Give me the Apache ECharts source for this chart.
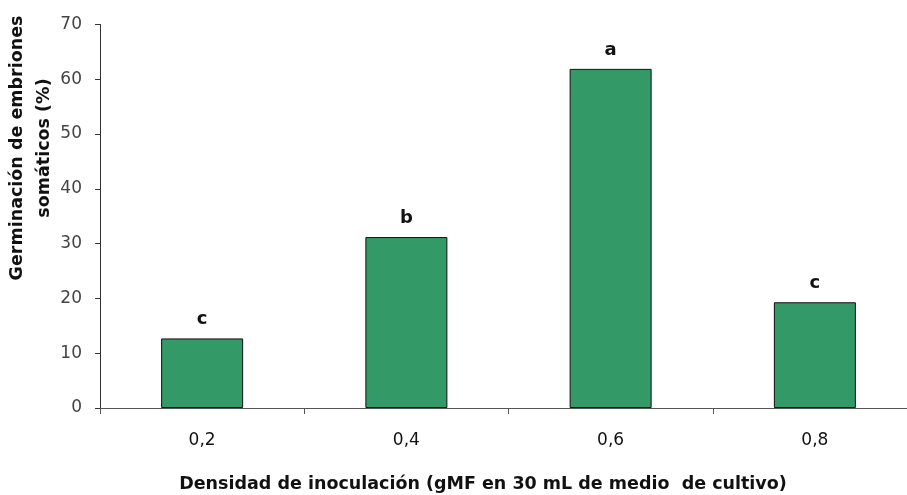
<!DOCTYPE html>
<html>
<head>
<meta charset="utf-8">
<style>html,body{margin:0;padding:0;background:#fff;overflow:hidden;width:907px;height:495px;}#c{width:917px;height:495px;}</style>
<script src="https://cdn.jsdelivr.net/npm/echarts@6/dist/echarts.min.js"></script>
</head>
<body>
<div id="c"></div>
<script>
const categories = ['0,2', '0,4', '0,6', '0,8'];
const values = [12.7, 31.2, 61.9, 19.3];
const letters = ['c', 'b', 'a', 'c'];
const yTicks = [0, 10, 20, 30, 40, 50, 60, 70];
const xTitle = 'Densidad de inoculación (gMF en 30 mL de medio  de cultivo)';
const yTitle = 'Germinación de embriones\nsomáticos (%)';

const chart = echarts.init(document.getElementById('c'), null, {renderer: 'canvas'});
const font = '"DejaVu Sans", "Liberation Sans", Arial, sans-serif';
chart.setOption({
  animation: false,
  backgroundColor: '#fff',
  grid: {left: 100, right: 0, top: 24.5, bottom: 87, containLabel: false},
  xAxis: {
    type: 'category',
    data: categories,
    axisLine: {lineStyle: {color: '#555', width: 1}},
    axisTick: {show: true, length: 6, lineStyle: {color: '#555'}},
    axisLabel: {margin: 24, fontSize: 17, fontFamily: font, color: '#111'},
    splitLine: {show: false}
  },
  yAxis: {
    type: 'value',
    min: yTicks[0],
    max: yTicks[yTicks.length - 1],
    interval: 10,
    axisLine: {show: true, lineStyle: {color: '#333', width: 1}},
    axisTick: {show: true, length: 5, lineStyle: {color: '#333'}},
    axisLabel: {margin: 18, fontSize: 17, fontFamily: font, color: '#444'},
    splitLine: {show: false}
  },
  series: [{
    type: 'bar',
    data: values.map((v, i) => ({value: v, label: {formatter: letters[i]}})),
    barWidth: 82,
    itemStyle: {color: '#339966', borderColor: '#111', borderWidth: 1},
    label: {show: true, position: 'top', distance: 10, fontSize: 18, fontWeight: 'bold', fontFamily: font, color: '#111'}
  }],
  graphic: [
    {type: 'text', x: 483, y: 484, style: {text: xTitle, align: 'center', verticalAlign: 'middle', font: 'bold 17.5px ' + font, fill: '#111'}},
    {type: 'text', x: 31, y: 148, rotation: Math.PI / 2, style: {text: yTitle, align: 'center', verticalAlign: 'middle', font: 'bold 17.5px ' + font, lineHeight: 27, fill: '#111'}}
  ]
});
</script>
</body>
</html>
